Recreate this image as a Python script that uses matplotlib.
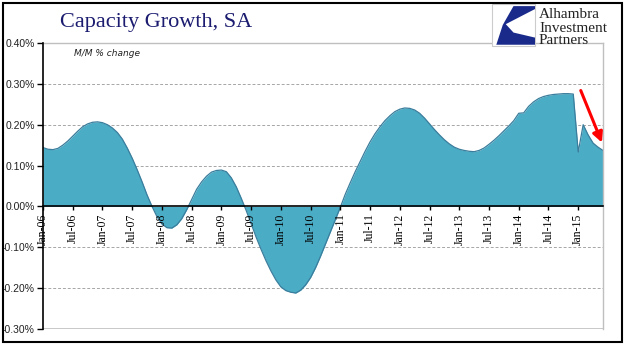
import matplotlib.pyplot as plt
import matplotlib.patches as patches
import numpy as np

# monthly M/M % change, Jan-2006 .. Jun-2015
values = [
    0.144, 0.140, 0.139, 0.142, 0.150, 0.160, 0.172, 0.184, 0.195, 0.202, 0.206, 0.207,   # 2006
    0.205, 0.200, 0.192, 0.181, 0.165, 0.143, 0.118, 0.090, 0.060, 0.028, 0.000, -0.025,  # 2007
    -0.043, -0.052, -0.053, -0.045, -0.030, -0.008, 0.017, 0.042, 0.060, 0.074, 0.084, 0.088,  # 2008
    0.089, 0.085, 0.070, 0.048, 0.020, -0.010, -0.042, -0.075, -0.105, -0.133, -0.158, -0.180,  # 2009
    -0.197, -0.206, -0.210, -0.212, -0.205, -0.192, -0.174, -0.150, -0.122, -0.092, -0.062, -0.032,  # 2010
    -0.002, 0.030, 0.058, 0.085, 0.110, 0.135, 0.158, 0.178, 0.195, 0.210, 0.222, 0.232,   # 2011
    0.238, 0.241, 0.240, 0.236, 0.228, 0.216, 0.202, 0.188, 0.175, 0.163, 0.153, 0.145,    # 2012
    0.140, 0.137, 0.135, 0.134, 0.137, 0.143, 0.152, 0.162, 0.173, 0.185, 0.197, 0.210,    # 2013
    0.228, 0.229, 0.245, 0.256, 0.264, 0.269, 0.272, 0.274, 0.275, 0.276, 0.276, 0.275,    # 2014
    0.133, 0.200, 0.175, 0.155, 0.145, 0.137,                                              # 2015
]
months = np.arange(len(values))
tick_labels = []
for yr in range(6, 16):
    tick_labels += ["Jan-%02d" % yr, "Jul-%02d" % yr]
tick_labels = tick_labels[:-1]  # ends at Jan-15
tick_pos = np.arange(len(tick_labels)) * 6
y_ticks = [-0.3, -0.2, -0.1, 0.0, 0.1, 0.2, 0.3, 0.4]

W, H = 641, 358
fig = plt.figure(figsize=(W / 100, H / 100), dpi=100)
ax = fig.add_axes([43 / W, 1 - 329 / H, (603 - 43) / W, (329 - 43) / H])

fill_col = '#4bacc6'
ax.fill_between(months, values, 0, color=fill_col, linewidth=0, zorder=1)
ax.plot(months, values, color='#3a7d9c', linewidth=0.9, zorder=1.5)

ax.set_xlim(0, len(values) - 1)
ax.set_ylim(-0.3, 0.4)

# grid and borders
for y in [-0.2, -0.1, 0.1, 0.2, 0.3]:
    ax.axhline(y, color='#a6a6a6', linewidth=0.7, linestyle=(0, (3, 2)), zorder=0.5)
for s in ['top', 'right']:
    ax.spines[s].set_color('#bfbfbf')
    ax.spines[s].set_linewidth(1)
ax.spines['left'].set_color('black')
ax.spines['left'].set_linewidth(1.2)
ax.spines['left'].set_zorder(5)
ax.axhline(-0.3, color='#bfbfbf', linewidth=1.2, zorder=0.5)

# x axis at zero, labels drawn over the fill
ax.spines['bottom'].set_position(('data', 0))
ax.spines['bottom'].set_color('black')
ax.spines['bottom'].set_linewidth(1.2)
ax.spines['bottom'].set_zorder(5)
ax.set_xticks(tick_pos)
ax.set_xticklabels(tick_labels, rotation=90, fontsize=8.5, family='Liberation Serif')
ax.tick_params(axis='x', direction='out', length=3, width=1, pad=2)
ax.xaxis.set_zorder(4)

ax.set_yticks(y_ticks)
ax.set_yticklabels(["%.2f%%" % v for v in y_ticks], fontsize=7.5, family='Liberation Sans', color='#222222')
ax.tick_params(axis='y', direction='out', length=4, width=1, pad=2)

ax.text(0.055, 0.965, "M/M % change", transform=ax.transAxes, fontsize=6.5, style='italic',
        ha='left', va='center', color='#222222')

# red arrow
ax.annotate("", xy=(113, 0.150), xytext=(108.3, 0.290),
            arrowprops=dict(arrowstyle='-|>', color='#ff0000', lw=2.2, mutation_scale=15), zorder=6)

# title
fig.text(60 / W, 1 - 22 / H, "Capacity Growth, SA", fontsize=16, family='Liberation Serif',
         color='#1b1b70', ha='left', va='center')

# logo
lx0, ly0, lw, lh = 492 / W, 1 - 46 / H, 43 / W, 42 / H
fig.patches.append(patches.Rectangle((lx0, ly0), lw, lh, transform=fig.transFigure,
                                     facecolor='white', edgecolor='#cccccc', linewidth=0.8))
shape = [(0.5, 0.95), (1.0, 0.95), (1.0, 0.88), (0.32, 0.52), (0.5, 0.32), (1.0, 0.2),
         (1.0, 0.03), (0.1, 0.03), (0.25, 0.5)]
pts = [(lx0 + x * lw, ly0 + y * lh) for x, y in shape]
fig.patches.append(patches.Polygon(pts, closed=True, transform=fig.transFigure,
                                   facecolor='#1a2a8a', edgecolor='none'))
for i, line in enumerate(["Alhambra", "Investment", "Partners"]):
    fig.text(539 / W, 1 - (15 + 13 * i) / H, line, fontsize=11, family='Liberation Serif',
             color='#222222', ha='left', va='center')

# outer frame
fig.patches.append(patches.Rectangle((3 / W, 1 - 342 / H), 619 / W, 339 / H, transform=fig.transFigure,
                                     fill=False, edgecolor='black', linewidth=1.5))

fig.savefig("out.png", dpi=100)
